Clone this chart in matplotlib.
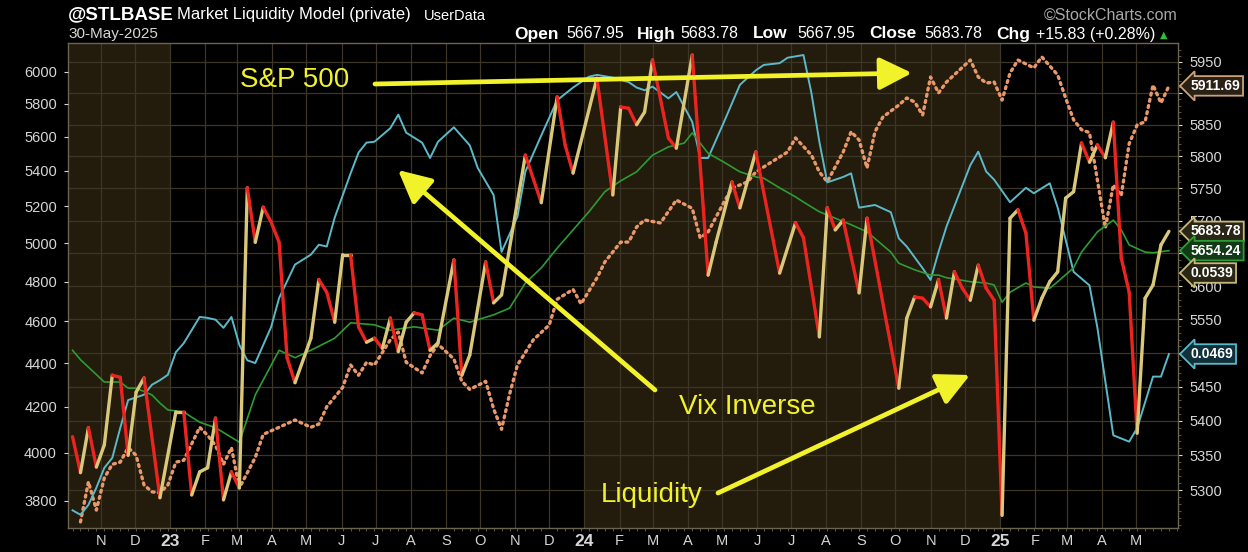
import matplotlib
matplotlib.use('Agg')
import matplotlib.pyplot as plt
import matplotlib.dates as mdates
from matplotlib.collections import LineCollection
from matplotlib.ticker import NullLocator, FixedLocator, NullFormatter
import numpy as np
import pandas as pd

plt.rcParams['font.family'] = ['Liberation Sans', 'DejaVu Sans']

# weekly bars, week 0 = 7-Oct-2022
start = np.datetime64('2022-10-07')

liq_weeks = [0, 1, 2, 3, 4, 5, 6, 7, 8, 9, 11, 13, 14, 15, 16, 17, 18, 19, 20, 21,
             22, 23, 24, 25, 26, 27, 28, 30, 31, 32, 33, 34, 35, 36, 37, 38, 39, 40,
             41, 42, 43, 44, 45, 46, 48, 49, 50, 52, 53, 54, 57, 59, 61, 62, 63, 66,
             68, 69, 70, 71, 72, 73, 75, 76, 78, 80, 81, 83, 84, 86, 89, 91, 92, 94,
             95, 96, 97, 99, 100, 104, 105, 106, 107, 108, 109, 110, 111, 112, 113,
             114, 115, 116, 117, 118, 119, 120, 121, 122, 123, 124, 125, 126, 127,
             128, 129, 130, 131, 132, 133, 134, 135, 136, 137, 138]
liq_vals = [5377, 5325, 5390, 5333, 5365, 5467, 5464, 5350, 5442, 5463, 5289, 5413,
            5413, 5293, 5326, 5332, 5404, 5286, 5326, 5303, 5751, 5667, 5721, 5698,
            5667, 5493, 5456, 5522, 5610, 5591, 5546, 5648, 5648, 5539, 5516, 5522,
            5507, 5552, 5502, 5546, 5560, 5557, 5504, 5515, 5640, 5467, 5497, 5637,
            5575, 5587, 5802, 5728, 5894, 5818, 5774, 5924, 5740, 5878, 5876, 5850,
            5870, 5953, 5829, 5813, 5961, 5617, 5667, 5760, 5720, 5807, 5620, 5697,
            5674, 5524, 5720, 5686, 5701, 5590, 5704, 5448, 5552, 5584, 5582, 5569,
            5610, 5552, 5622, 5597, 5579, 5632, 5597, 5579, 5264, 5704, 5717, 5681,
            5549, 5582, 5607, 5622, 5735, 5745, 5821, 5791, 5818, 5798, 5854, 5643,
            5591, 5382, 5582, 5602, 5663, 5683.78]

ma_weeks = [0, 1, 2, 4, 6, 7, 8, 10, 11, 12, 14, 16, 18, 21, 23, 26, 28, 30, 32, 33,
            35, 38, 40, 43, 46, 48, 50, 53, 55, 57, 59, 61, 63, 65, 67, 69, 71, 73,
            75, 77, 78, 80, 82, 84, 86, 87, 89, 91, 92, 94, 96, 98, 100, 103, 104,
            106, 108, 109, 110, 113, 115, 116, 117, 118, 120, 121, 123, 124, 126,
            127, 129, 131, 132, 133, 135, 136, 138]
ma_vals = [5504, 5490, 5479, 5457, 5457, 5448, 5448, 5438, 5426, 5416, 5413, 5398,
           5390, 5369, 5438, 5504, 5493, 5504, 5516, 5522, 5545, 5542, 5534, 5539,
           5534, 5552, 5546, 5557, 5567, 5605, 5628, 5658, 5686, 5714, 5745, 5762,
           5776, 5802, 5815, 5821, 5837, 5805, 5791, 5776, 5768, 5766, 5751, 5737,
           5729, 5714, 5704, 5694, 5683, 5652, 5635, 5625, 5617, 5617, 5613, 5607,
           5605, 5602, 5576, 5591, 5605, 5599, 5597, 5607, 5628, 5652, 5683, 5701,
           5686, 5663, 5652, 5651, 5654.24]

spx_weeks = [1, 2, 3, 4, 5, 6, 7, 8, 9, 10, 11, 12, 13, 14, 16, 17, 18, 19, 20, 21,
             23, 24, 26, 28, 30, 31, 32, 34, 35, 36, 37, 38, 40, 41, 42, 44, 45, 46,
             48, 49, 50, 52, 53, 54, 55, 56, 58, 60, 61, 63, 64, 66, 67, 69, 70, 71,
             72, 74, 76, 78, 79, 80, 82, 83, 85, 86, 88, 90, 91, 93, 94, 95, 97, 98,
             99, 100, 101, 102, 104, 105, 106, 107, 108, 109, 110, 113, 114, 115,
             116, 117, 118, 119, 121, 122, 124, 125, 126, 127, 128, 130, 131, 132,
             133, 134, 135, 136, 137, 138]
spx_vals = [3716, 3878, 3763, 3894, 3951, 3960, 4022, 3989, 3865, 3837, 3833, 3865,
            3960, 3968, 4110, 4075, 4031, 3951, 4022, 3853, 3980, 4079, 4110, 4142,
            4110, 4124, 4201, 4288, 4392, 4344, 4404, 4392, 4511, 4549, 4404, 4355,
            4436, 4490, 4420, 4316, 4279, 4316, 4192, 4101, 4256, 4392, 4511, 4583,
            4710, 4760, 4687, 4818, 4901, 5006, 5006, 5087, 5125, 5109, 5235, 5189,
            5028, 5060, 5224, 5302, 5338, 5394, 5452, 5510, 5593, 5492, 5394, 5338,
            5510, 5630, 5581, 5417, 5630, 5719, 5792, 5836, 5811, 5731, 5968, 5867,
            5936, 6077, 5968, 5930, 5936, 5823, 5994, 6077, 6026, 6097, 5981, 5836,
            5702, 5642, 5625, 5082, 5320, 5260, 5560, 5671, 5690, 5917, 5805, 5911.69]

vix_weeks = [0, 1, 2, 3, 4, 5, 6, 7, 9, 10, 11, 12, 13, 14, 16, 17, 18, 19, 20, 21,
             22, 23, 24, 25, 26, 28, 30, 31, 32, 33, 35, 36, 37, 38, 40, 41, 42, 44,
             45, 46, 48, 50, 51, 53, 54, 56, 57, 59, 61, 63, 65, 66, 68, 70, 71, 72,
             73, 75, 76, 78, 79, 80, 82, 84, 86, 87, 89, 90, 92, 93, 94, 95, 97, 98,
             99, 101, 103, 104, 105, 107, 108, 109, 110, 113, 114, 115, 116, 118,
             120, 121, 123, 124, 126, 128, 129, 131, 133, 134, 136, 137, 138]
vix_vals = [0.0296, 0.0291, 0.0302, 0.0321, 0.0343, 0.0354, 0.0387, 0.0418, 0.0424,
            0.0435, 0.0440, 0.0446, 0.0471, 0.0481, 0.0510, 0.0509, 0.0507, 0.0498,
            0.0510, 0.0479, 0.0462, 0.0459, 0.0479, 0.0499, 0.0531, 0.0568, 0.0579,
            0.0590, 0.0588, 0.0620, 0.0669, 0.0692, 0.0703, 0.0704, 0.0719, 0.0734,
            0.0714, 0.0703, 0.0686, 0.0704, 0.0720, 0.0700, 0.0675, 0.0645, 0.0582,
            0.0621, 0.0671, 0.0711, 0.0750, 0.0764, 0.0776, 0.0778, 0.0775, 0.0770,
            0.0764, 0.0761, 0.0765, 0.0752, 0.0759, 0.0726, 0.0686, 0.0686, 0.0726,
            0.0767, 0.0783, 0.0789, 0.0791, 0.0797, 0.0800, 0.0758, 0.0704, 0.0659,
            0.0665, 0.0669, 0.0631, 0.0634, 0.0626, 0.0597, 0.0588, 0.0564, 0.0551,
            0.0582, 0.0610, 0.0678, 0.0693, 0.0671, 0.0662, 0.0637, 0.0653, 0.0647,
            0.0658, 0.0631, 0.0560, 0.0545, 0.0498, 0.0379, 0.0372, 0.0387, 0.0444,
            0.0444, 0.0469]

right_ticks = list(range(5300, 5951, 50))
left_ticks = list(range(3800, 6001, 200))
month_letters = ['J', 'F', 'M', 'A', 'M', 'J', 'J', 'A', 'S', 'O', 'N', 'D']
hidden_right = {5900, 5650, 5500}   # covered by the value tags in the original

BG = 'black'
SHADE = '#231b0b'
GRID = '#3b3626'
TXT = '#d6d6d6'
YEL = '#f2f22a'
RED = '#ec2420'
KHAKI = '#d9c77a'
CYAN = '#5bb9c9'
GREEN = '#2e9c34'
ORANGE = '#e8986a'


def to_x(weeks):
    d = start + np.array(weeks) * np.timedelta64(7, 'D')
    return mdates.date2num(d)


W, H = 1248, 552
fig = plt.figure(figsize=(W / 100, H / 100), dpi=100, facecolor=BG)
L, R, T, B = 68, 1178, 43, 528
rect = [L / W, 1 - B / H, (R - L) / W, (B - T) / H]

ax = fig.add_axes(rect)
ax.set_facecolor(BG)
x_lo = mdates.date2num(np.datetime64('2022-10-03'))
x_hi = mdates.date2num(np.datetime64('2025-06-07'))
ax.set_xlim(x_lo, x_hi)
ax.set_yscale('log')
ax.set_ylim(5245.9, 5980.6)

# year shading
for y0, y1 in [('2022-01-01', '2023-01-01'), ('2024-01-01', '2025-01-01')]:
    ax.axvspan(mdates.date2num(np.datetime64(y0)), mdates.date2num(np.datetime64(y1)),
               color=SHADE, lw=0, zorder=0)

months = pd.date_range('2022-11-01', '2025-05-01', freq='MS')
mx = mdates.date2num(months.to_numpy())
for v in mx:
    ax.axvline(v, color=GRID, lw=0.9, zorder=1)
for v in right_ticks:
    ax.axhline(v, color=GRID, lw=0.9, zorder=1)

ax.set_xticks(mx)
labels = [f'{m.year % 100:02d}' if m.month == 1 else month_letters[m.month - 1] for m in months]
ax.set_xticklabels(labels)
for lab, m in zip(ax.get_xticklabels(), months):
    if m.month == 1:
        lab.set_fontweight('bold')
        lab.set_fontsize(12.5)
    else:
        lab.set_fontsize(10.5)
ax.xaxis.set_minor_locator(FixedLocator(to_x(range(0, 140))))
ax.xaxis.set_minor_formatter(NullFormatter())
ax.tick_params(axis='x', which='major', colors=TXT, length=0, pad=4)
ax.tick_params(axis='x', which='minor', color='#6b6550', length=2)

ax.set_yticks(right_ticks)
ax.set_yticklabels(['' if v in hidden_right else str(v) for v in right_ticks])
ax.yaxis.set_minor_locator(FixedLocator(list(range(5250, 5980, 10))))
ax.yaxis.set_minor_formatter(NullFormatter())
for s in ax.spines.values():
    s.set_color('#6b6550')
    s.set_linewidth(1.0)

# S&P 500 on the left (log) scale
ax_sp = ax.twinx()
ax_sp.set_yscale('log')
ax_sp.set_ylim(3692, 6188)
ax_sp.set_yticks(left_ticks)
ax_sp.set_yticklabels([str(v) for v in left_ticks])
ax_sp.yaxis.set_minor_locator(NullLocator())
for s in ax_sp.spines.values():
    s.set_visible(False)
ax_sp.plot(to_x(spx_weeks), spx_vals, color=ORANGE, lw=2.4,
           linestyle=(0, (0.6, 1.3)), dash_capstyle='round', zorder=3)

# Vix inverse on its own hidden scale
ax_vx = ax.twinx()
ax_vx.set_ylim(0.02764, 0.08133)
ax_vx.set_yticks([])
for s in ax_vx.spines.values():
    s.set_visible(False)
ax_vx.plot(to_x(vix_weeks), vix_vals, color=CYAN, lw=1.4, zorder=3)

# liquidity + its average on the right scale
ax_lq = ax.twinx()
ax_lq.set_yscale('log')
ax_lq.set_ylim(5245.9, 5980.6)
ax_lq.set_yticks([])
ax_lq.yaxis.set_minor_locator(NullLocator())
for s in ax_lq.spines.values():
    s.set_visible(False)
ax_lq.plot(to_x(ma_weeks), ma_vals, color=GREEN, lw=1.2, zorder=3)

lx = to_x(liq_weeks)
segs, cols = [], []
for i in range(len(lx) - 1):
    segs.append([(lx[i], liq_vals[i]), (lx[i + 1], liq_vals[i + 1])])
    cols.append(RED if liq_vals[i + 1] < liq_vals[i] else KHAKI)
ax_lq.add_collection(LineCollection(segs, colors=cols, linewidths=2.4,
                                    capstyle='round', joinstyle='round', zorder=4))

# twinx moves the base ticks to the left, so set sides after creating twins
ax.yaxis.tick_right()
ax.tick_params(axis='y', which='both', left=False, labelleft=False, right=True,
               labelright=True)
ax.tick_params(axis='y', which='major', colors=TXT, labelsize=10.5, length=3, pad=5)
ax.tick_params(axis='y', which='minor', color='#6b6550', length=2)
ax_sp.yaxis.tick_left()
ax_sp.tick_params(axis='y', which='both', left=True, labelleft=True, right=False,
                  labelright=False, colors=TXT, labelsize=10.5, length=3, pad=5)
for a in (ax_vx, ax_lq):
    a.tick_params(axis='y', which='both', left=False, right=False,
                  labelleft=False, labelright=False)


# price tags on the right edge
def tag(axis, yval, text, edge, face, trans=None):
    tr = trans if trans is not None else axis.get_yaxis_transform()
    axis.annotate(text, xy=(1.0, yval), xycoords=tr, xytext=(9, 0),
                  textcoords='offset points', ha='left', va='center',
                  color='white', fontsize=10, fontweight='bold',
                  bbox=dict(boxstyle='larrow,pad=0.2', fc=face, ec=edge, lw=1.3),
                  annotation_clip=False, zorder=10)


tag(ax_sp, spx_vals[-1], f'{spx_vals[-1]:.2f}', '#c9a27a', '#2a2014')
tag(ax_lq, liq_vals[-1], f'{liq_vals[-1]:.2f}', '#c8b878', '#2a2616')
tag(ax_lq, ma_vals[-1], f'{ma_vals[-1]:.2f}', GREEN, '#123a16')
tag(ax_lq, (528 - 273) / 485, '0.0539', '#c8b878', '#2a2616', trans=ax_lq.transAxes)
tag(ax_vx, vix_vals[-1], f'{vix_vals[-1]:.4f}', CYAN, '#10303a')


# callouts
def fx(px):
    return (px - L) / (R - L)


def fy(py):
    return (B - py) / (B - T)


for px, py, s in [(295, 80, 'S&P 500'), (747, 407, 'Vix Inverse'), (652, 495, 'Liquidity')]:
    ax_lq.text(fx(px), fy(py), s, color=YEL, fontsize=20, ha='center', va='center',
               transform=ax_lq.transAxes, zorder=11)
arrow = dict(arrowstyle='-|>,head_length=1.1,head_width=0.55', color=YEL, lw=3.4,
             mutation_scale=18, shrinkA=0, shrinkB=0)
for (x0, y0), (x1, y1) in [((375, 84), (912, 73)), ((655, 390), (398, 170)),
                           ((718, 493), (970, 375))]:
    ax_lq.annotate('', xy=(fx(x1), fy(y1)), xytext=(fx(x0), fy(y0)),
                   xycoords='axes fraction', textcoords='axes fraction',
                   arrowprops=arrow, zorder=11)


# header
def ft(px, py, s, **kw):
    fig.text(px / W, 1 - py / H, s, va='center', **kw)


ft(68, 15, '@STLBASE', color='white', fontsize=13.5, fontweight='bold')
ft(177, 15, 'Market Liquidity Model (private)', color='white', fontsize=12)
ft(424, 16, 'UserData', color='white', fontsize=10.5)
ft(68, 34, '30-May-2025', color=TXT, fontsize=11)
ft(1178, 15, '\u00a9StockCharts.com', color='#a8a8a8', fontsize=11.5, ha='right')
head = [(514, 'Open', True), (566, '5667.95', False), (637, 'High', True),
        (680, '5683.78', False), (753, 'Low', True), (797, '5667.95', False),
        (869, 'Close', True), (924, '5683.78', False), (996, 'Chg', True),
        (1036, '+15.83 (+0.28%)', False)]
for px, s, bold in head:
    ft(px, 34, s, color='white', fontsize=12.5 if bold else 11.5,
       fontweight='bold' if bold else 'normal')
ft(1160, 35, '\u25b2', color='#2fbf3a', fontsize=7, family=['DejaVu Sans'])

fig.savefig('out.png', dpi=100, facecolor=BG)
